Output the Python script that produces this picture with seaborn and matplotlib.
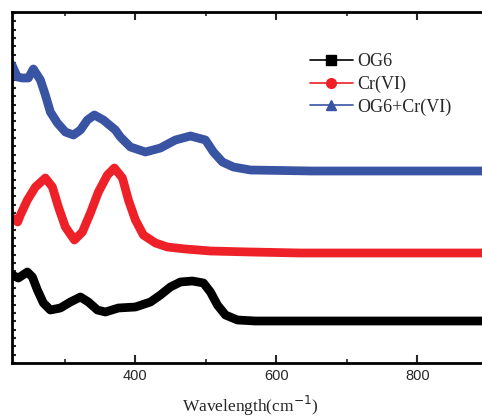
import matplotlib
matplotlib.use("Agg")
import matplotlib.pyplot as plt
import seaborn as sns
import pandas as pd
from matplotlib.lines import Line2D
from matplotlib.ticker import MultipleLocator, NullFormatter

# ---- data (arbitrary absorbance units) ----
og6_wl = [225, 234.0, 246.8, 253.9, 261.0, 269.5, 279.4, 293.6, 307.8, 322.0, 333.3,
          346.1, 357.4, 375.9, 400, 421.3, 435.5, 449.6, 463.8, 480.8, 496.5, 506.4,
          516.3, 527.7, 544.7, 570.2, 700, 900]
og6_abs = [0.88, 0.85, 0.91, 0.86, 0.73, 0.60, 0.53, 0.55, 0.61, 0.66, 0.61,
           0.53, 0.51, 0.55, 0.56, 0.61, 0.68, 0.76, 0.81, 0.82, 0.80, 0.71,
           0.58, 0.48, 0.43, 0.42, 0.42, 0.42]

cr_wl = [225, 233.0, 236.9, 246.8, 258.2, 272.3, 282.3, 290.8, 300.7, 313.5, 324.8,
         336.2, 347.5, 360.3, 370.2, 381.6, 390.1, 400, 411.3, 428.4, 445.4, 470.9,
         506.4, 563.1, 634, 750, 900]
cr_abs = [1.45, 1.41, 1.48, 1.63, 1.76, 1.85, 1.76, 1.56, 1.36, 1.23, 1.31,
          1.50, 1.71, 1.88, 1.95, 1.85, 1.63, 1.43, 1.28, 1.20, 1.16, 1.14,
          1.12, 1.11, 1.10, 1.10, 1.10]

mix_wl = [225, 232.6, 239.7, 248.2, 255.3, 265.3, 272.3, 279.4, 289.4, 300.7, 312.1,
          322.0, 331.9, 341.8, 354.6, 371.6, 378.7, 392.9, 414.2, 435.5, 456.7,
          478.0, 499.3, 510.6, 523.4, 539.0, 563.1, 650, 900]
mix_abs = [2.98, 2.86, 2.85, 2.85, 2.94, 2.83, 2.68, 2.51, 2.40, 2.31, 2.28,
           2.33, 2.43, 2.48, 2.43, 2.33, 2.26, 2.16, 2.11, 2.15, 2.23,
           2.27, 2.23, 2.11, 2.01, 1.96, 1.93, 1.92, 1.92]

labels = ["OG6", "Cr(VI)", "OG6+Cr(VI)"]
colors = ["#000000", "#EE2128", "#3A54A4"]
markers = ["s", "o", "^"]

df = pd.concat([
    pd.DataFrame({"wl": og6_wl, "abs": og6_abs, "sample": labels[0]}),
    pd.DataFrame({"wl": cr_wl, "abs": cr_abs, "sample": labels[1]}),
    pd.DataFrame({"wl": mix_wl, "abs": mix_abs, "sample": labels[2]}),
])

sns.set_style("ticks")
plt.rcParams["font.family"] = ["Liberation Sans", "DejaVu Sans"]

fig = plt.figure(figsize=(4.82, 4.19), dpi=100)
ax = fig.add_axes([12 / 482, 56 / 419, 476 / 482, 350.5 / 419])

sns.lineplot(data=df, x="wl", y="abs", hue="sample", hue_order=labels,
             palette=colors, linewidth=6.3, legend=False, ax=ax,
             solid_capstyle="round", solid_joinstyle="round", sort=True)

ax.set_xlim(225, 900)
ax.set_ylim(0, 3.505)

ax.xaxis.set_major_locator(MultipleLocator(200))
ax.xaxis.set_minor_locator(MultipleLocator(100))
ax.yaxis.set_major_locator(MultipleLocator(0.25))
ax.yaxis.set_minor_locator(MultipleLocator(0.0833))
ax.yaxis.set_major_formatter(NullFormatter())

ax.tick_params(axis="x", which="major", direction="in", length=6, width=1.5,
               top=True, labelsize=10.5, pad=4.5)
ax.tick_params(axis="x", which="minor", direction="in", length=3, width=1.2, top=True)
ax.tick_params(axis="y", which="both", direction="in", length=3, width=1.5, left=True)

for s in ["left", "bottom", "top"]:
    ax.spines[s].set_linewidth(2)
    ax.spines[s].set_color("black")
ax.spines["right"].set_visible(False)

ax.set_xlabel("Wavelength(cm$^{-1}$)", family=["Liberation Serif"], fontsize=12.5, labelpad=8)
ax.set_ylabel("")

handles = [Line2D([0], [0], color=c, marker=m, markersize=7, linewidth=1.2)
           for c, m in zip(colors, markers)]
leg = ax.legend(handles, labels, loc="upper left", bbox_to_anchor=(0.591, 0.93),
                frameon=False, prop={"family": "Liberation Serif", "size": 13},
                handlelength=2.4, handletextpad=0.25, labelspacing=0.3)

fig.savefig("out.png", dpi=100)
